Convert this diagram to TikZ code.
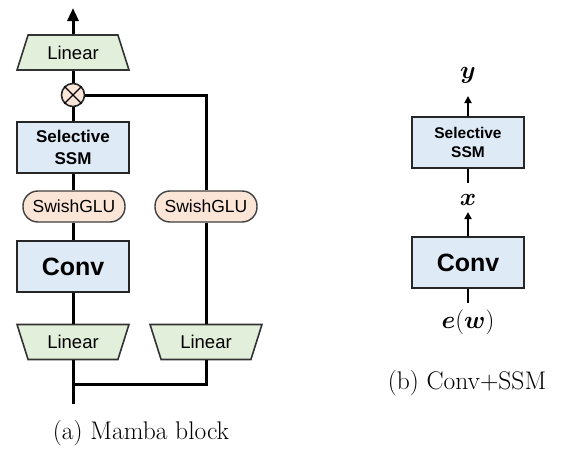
\documentclass[tikz,border=0pt]{standalone}
\usepackage{fontspec}
\usepackage{amsmath,bm}
\setsansfont{Liberation Sans}
\usetikzlibrary{shapes.geometric,arrows.meta,calc}
\definecolor{lingreen}{HTML}{E2EFDA}
\definecolor{boxblue}{HTML}{DEEAF6}
\definecolor{peach}{HTML}{FBE5D6}
\begin{document}
\begin{tikzpicture}[x=1pt,y=-1pt,
  conn/.style={line width=3pt},
  connb/.style={line width=2.2pt},
  linbox/.style={trapezium, trapezium stretches=true, trapezium left angle=65, trapezium right angle=65,
     minimum width=112pt, minimum height=35pt, inner sep=0pt, fill=lingreen, draw=black!80, line width=1.6pt,
     font=\sffamily\fontsize{18.5}{20}\selectfont},
  linup/.style={linbox},
  lindown/.style={linbox, shape border rotate=180},
  bluebox/.style={rectangle, minimum width=112pt, minimum height=51pt, inner sep=0pt, fill=boxblue,
     draw=black!85, line width=2.4pt, align=center},
  ssmfont/.style={font=\sffamily\bfseries\fontsize{17}{21.5}\selectfont},
  convfont/.style={font=\sffamily\bfseries\fontsize{25}{28}\selectfont},
  swish/.style={rectangle, rounded corners=15pt, minimum width=102pt, minimum height=31pt, inner sep=0pt,
     fill=peach, draw=black!75, line width=1.4pt, font=\sffamily\fontsize{17.5}{20}\selectfont},
  mathlbl/.style={inner sep=0pt, font=\fontsize{31}{35}\selectfont},
  caption/.style={inner sep=0pt, font=\fontsize{25.5}{29}\selectfont}
]
\useasboundingbox (0,0) rectangle (563,455);
% ---------- (a) Mamba block ----------
\coordinate (top) at (73,8);
\node[linup] (linT) at (73,52.5) {Linear};
\node[circle, draw=black!85, fill=peach, line width=1.6pt, minimum size=23pt, inner sep=0pt] (mul) at (73,95) {};
\draw[line width=1.4pt] (mul.north east) -- (mul.south west) (mul.north west) -- (mul.south east);
\node[bluebox, ssmfont] (ssmL) at (73,147.5) {Selective\\SSM};
\node[swish] (swL) at (74,206.5) {SwishGLU};
\node[swish] (swR) at (206,206.5) {SwishGLU};
\node[bluebox, convfont] (convL) at (73,266.5) {Conv};
\node[lindown] (linL) at (73,342) {Linear};
\node[lindown] (linR) at (206,342) {Linear};
\coordinate (bot) at (73,404);
\coordinate (join) at (73,384);
\coordinate (corner) at (206,95);

\draw[conn] (bot) -- (linL.top side);
\draw[conn] (linL.bottom side) -- (convL.south);
\draw[conn] (convL.north) -- (swL.south -| convL.north);
\draw[conn] (swL.north -| ssmL.south) -- (ssmL.south);
\draw[conn] (ssmL.north) -- (mul.south);
\draw[conn] (mul.north) -- (linT.bottom side);
\draw[conn, -{Triangle[length=13pt,width=11pt]}] (linT.top side) -- (top);
\draw[conn] (join) -| (linR.top side);
\draw[conn] (linR.bottom side) -- (swR.south);
\draw[conn] (swR.north) -- (corner) -- (mul.east);

\node[caption] (capA) at (141,433) {(a) Mamba block};

% ---------- (b) Conv+SSM ----------
\node[mathlbl] (ylab) at (468,75) {$\bm{y}$};
\node[bluebox, font=\sffamily\bfseries\fontsize{15.5}{19.5}\selectfont] (ssmR) at (468,142.5) {Selective\\SSM};
\node[mathlbl] (xlab) at (468,200) {$\bm{x}$};
\node[bluebox, convfont] (convR) at (468,262.5) {Conv};
\node[mathlbl] (elab) at (468,322) {$\bm{e}(\bm{w})$};
\coordinate (ssmRend) at (468,183);
\coordinate (convRend) at (468,303);
\coordinate (ytip) at (468,96);
\coordinate (xtip) at (468,212);

\draw[connb, -{Triangle[length=7pt,width=7pt]}] (ssmR.north) -- (ytip);
\draw[connb] (ssmR.south) -- (ssmRend);
\draw[connb, -{Triangle[length=7pt,width=7pt]}] (convR.north) -- (xtip);
\draw[connb] (convR.south) -- (convRend);

\node[caption] (capB) at (467,383) {(b) Conv+SSM};
\end{tikzpicture}
\end{document}
